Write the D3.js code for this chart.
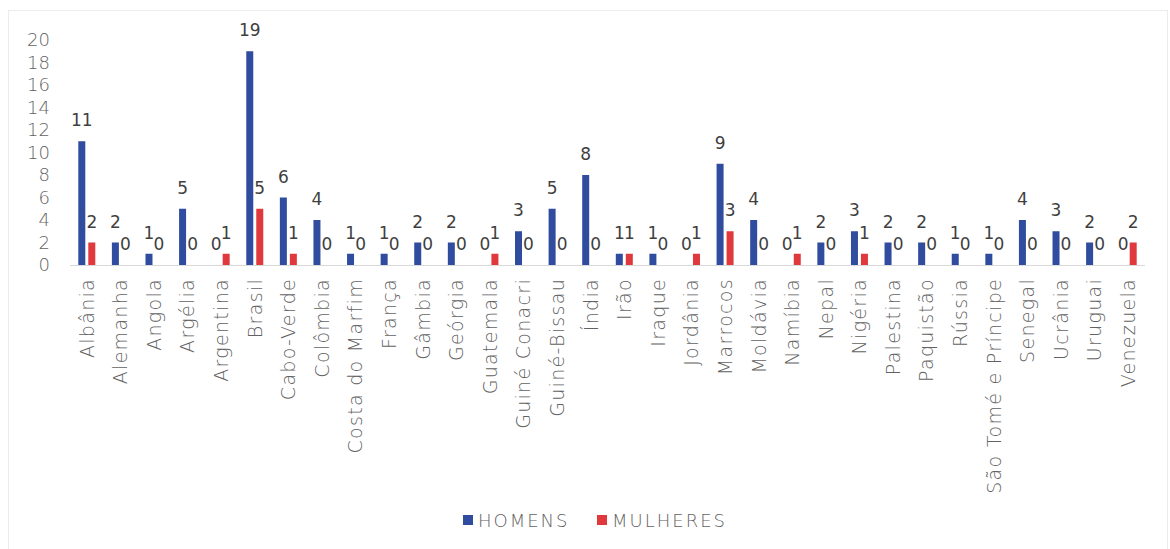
<!DOCTYPE html>
<html>
<head>
<meta charset="utf-8">
<script src="https://cdn.jsdelivr.net/npm/d3@7"></script>
<style>
  html, body { margin: 0; padding: 0; background: #ffffff; }
  svg { display: block; font-family: "DejaVu Sans", sans-serif; }
</style>
</head>
<body>
<svg id="chart" width="1170" height="549"></svg>
<script>
// Countries and counts per sex
const countries = [
  "Albânia", "Alemanha", "Angola", "Argélia", "Argentina", "Brasil", "Cabo-Verde",
  "Colômbia", "Costa do Marfim", "França", "Gâmbia", "Geórgia", "Guatemala",
  "Guiné Conacri", "Guiné-Bissau", "Índia", "Irão", "Iraque", "Jordânia", "Marrocos",
  "Moldávia", "Namíbia", "Nepal", "Nigéria", "Palestina", "Paquistão", "Rússia",
  "São Tomé e Príncipe", "Senegal", "Ucrânia", "Uruguai", "Venezuela"
];
const homens   = [11, 2, 1, 5, 0, 19, 6, 4, 1, 1, 2, 2, 0, 3, 5, 8, 1, 1, 0, 9, 4, 0, 2, 3, 2, 2, 1, 1, 4, 3, 2, 0];
const mulheres = [ 2, 0, 0, 0, 1,  5, 1, 0, 0, 0, 0, 0, 1, 0, 0, 0, 1, 0, 1, 3, 0, 1, 0, 1, 0, 0, 0, 0, 0, 0, 0, 2];
const seriesNames = ["HOMENS", "MULHERES"];
const yTicks = [0, 2, 4, 6, 8, 10, 12, 14, 16, 18, 20];

const colors = { HOMENS: "#2f4c9e", MULHERES: "#e0393d" };
const textColor = "#626262";

const svg = d3.select("#chart");

// light frame around the chart area
svg.append("rect")
  .attr("x", 8.5).attr("y", 10.5)
  .attr("width", 1159).attr("height", 545)
  .attr("fill", "none").attr("stroke", "#ececec");

const x = d3.scaleBand().domain(countries).range([70, 1145]).paddingInner(0).paddingOuter(0);
const y = d3.scaleLinear().domain([0, 20]).range([265, 40]);

const barW = 7;
const offsets = { HOMENS: -5, MULHERES: 5 };

const rows = countries.map((c, i) => ({ country: c, HOMENS: homens[i], MULHERES: mulheres[i] }));

// y axis labels (no line, no ticks)
const yAxis = d3.axisLeft(y).tickValues(yTicks).tickSize(0).tickPadding(0);
const yg = svg.append("g").attr("transform", "translate(50,0)").call(yAxis);
yg.select(".domain").remove();
yg.selectAll("text")
  .attr("fill", textColor)
  .attr("font-size", 18)
  .attr("font-family", "DejaVu Sans, sans-serif")
  .attr("font-weight", 300);

// baseline
svg.append("line")
  .attr("x1", 70).attr("x2", 1145)
  .attr("y1", y(0) + 0.5).attr("y2", y(0) + 0.5)
  .attr("stroke", "#d9d9d9").attr("stroke-width", 1);

// bars
seriesNames.forEach(s => {
  svg.append("g").selectAll("rect")
    .data(rows)
    .join("rect")
    .attr("x", d => x(d.country) + x.bandwidth() / 2 + offsets[s] - barW / 2)
    .attr("y", d => y(d[s]))
    .attr("width", barW)
    .attr("height", d => y(0) - y(d[s]))
    .attr("fill", colors[s]);
});

// value labels above each bar
seriesNames.forEach(s => {
  svg.append("g").selectAll("text")
    .data(rows)
    .join("text")
    .attr("x", d => x(d.country) + x.bandwidth() / 2 + offsets[s])
    .attr("y", d => y(d[s]) - 15)
    .attr("text-anchor", "middle")
    .attr("font-size", 17)
    .attr("fill", "#3f3f3f")
    .text(d => d[s]);
});

// category labels, rotated
const xAxis = d3.axisBottom(x).tickSize(0).tickPadding(0);
const xg = svg.append("g").attr("transform", `translate(0,${y(0)})`).call(xAxis);
xg.select(".domain").remove();
xg.selectAll("text")
  .attr("transform", "rotate(-90)")
  .attr("text-anchor", "end")
  .attr("x", -13)
  .attr("y", 0)
  .attr("dy", "0.36em")
  .attr("fill", textColor)
  .attr("font-size", 19)
  .attr("letter-spacing", 1.3)
  .attr("font-family", "DejaVu Sans, sans-serif")
  .attr("font-weight", 300);

// legend
const legend = svg.append("g");
const legendItems = [
  { name: "HOMENS", sx: 463, tx: 478 },
  { name: "MULHERES", sx: 597, tx: 612 }
];
legendItems.forEach(it => {
  legend.append("rect")
    .attr("x", it.sx).attr("y", 515)
    .attr("width", 10).attr("height", 10)
    .attr("fill", colors[it.name]);
  legend.append("text")
    .attr("x", it.tx).attr("y", 527)
    .attr("font-size", 18)
    .attr("letter-spacing", 2)
    .attr("font-weight", 300)
    .attr("fill", textColor)
    .text(it.name);
});
</script>
</body>
</html>
